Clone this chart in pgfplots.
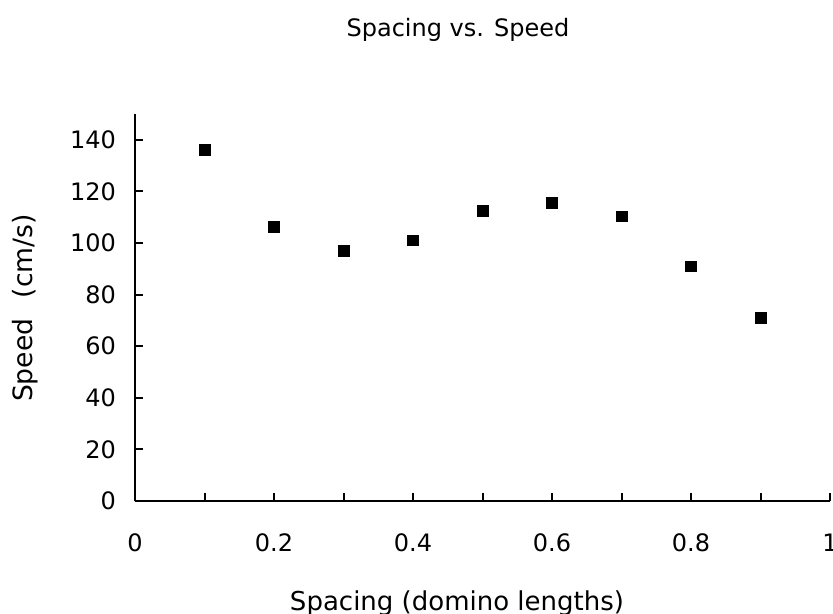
\documentclass[border=0pt]{standalone}
\usepackage{pgfplots}
\pgfplotsset{compat=1.18}
\usepackage{fontspec}
\setmainfont{DejaVu Sans}

% spacing (domino lengths) vs. speed (cm/s)
\pgfplotstableread{
x    y
0.1  136.2
0.2  106.1
0.3  96.8
0.4  101.0
0.5  112.3
0.6  115.5
0.7  110.3
0.8  90.9
0.9  71.1
}\speeddata

\begin{document}
\begin{tikzpicture}
\begin{axis}[
    at={(67.5pt,-250.5pt)},
    anchor=south west,
    scale only axis,
    width=347.5pt,
    height=193.5pt,
    xmin=0, xmax=1,
    ymin=0, ymax=150,
    axis x line*=bottom,
    axis y line*=left,
    xtick pos=bottom,
    ytick pos=left,
    axis line style={-, line width=1.4pt},
    tick style={black, line width=1pt},
    tick align=inside,
    major tick length=4pt,
    xtick={0,0.1,0.2,0.3,0.4,0.5,0.6,0.7,0.8,0.9,1},
    xticklabels={0,,0.2,,0.4,,0.6,,0.8,,1},
    ytick={0,20,40,60,80,100,120,140},
    /pgf/number format/assume math mode=true,
    ticklabel style={font=\fontsize{12}{14}\selectfont},
    xticklabel style={yshift=-13pt},
    yticklabel style={xshift=-6pt},
    clip=false,
]
\addplot[only marks, mark=square*, mark size=2.7pt,
         mark options={fill=black, draw=none}]
    table[x=x, y=y] {\speeddata};
\end{axis}

\node[anchor=base, font=\fontsize{12}{14}\selectfont] at (229pt,-18.3pt) {Spacing vs. Speed};
\node[anchor=base, font=\fontsize{13}{15}\selectfont] at (228.5pt,-305pt) {Spacing (domino lengths)};
\node[rotate=90, font=\fontsize{13.3}{15}\selectfont] at (12.5pt,-154pt) {Speed\hspace{6pt} (cm/s)};

\pgfresetboundingbox
\useasboundingbox (0,0) rectangle (416.5pt,-307pt);
\end{tikzpicture}
\end{document}
